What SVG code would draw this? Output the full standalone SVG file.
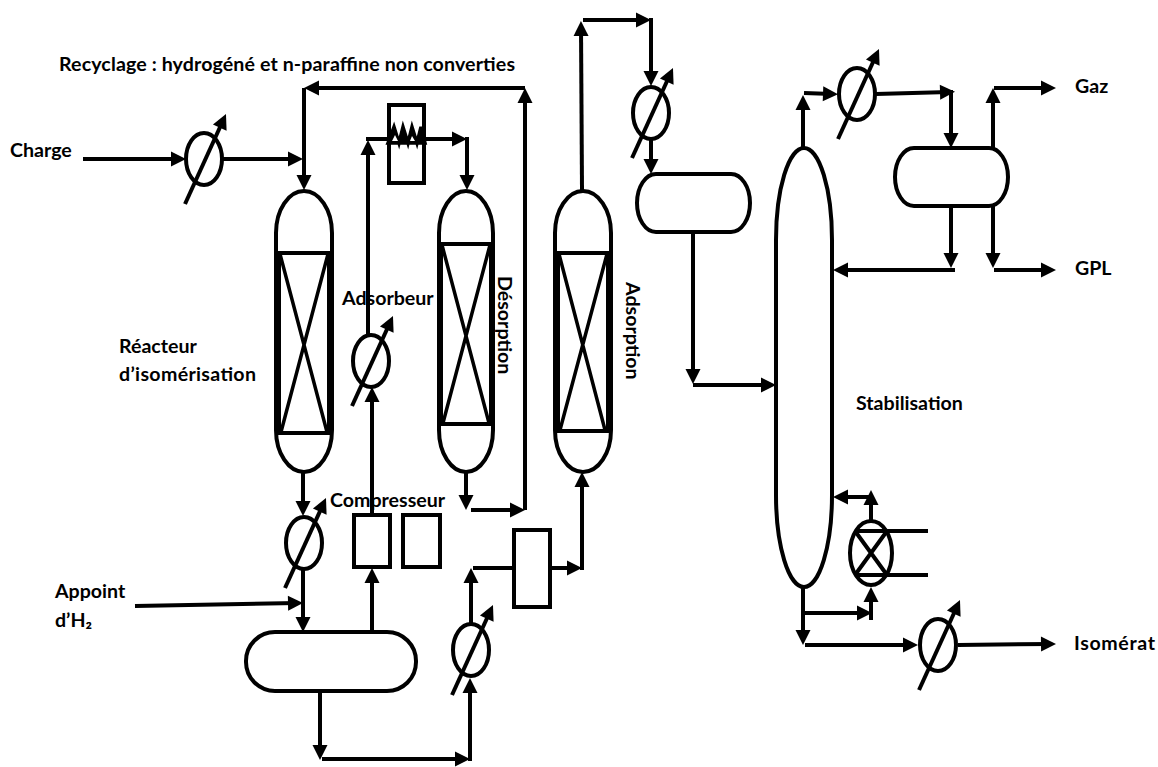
<svg xmlns="http://www.w3.org/2000/svg" width="1158" height="767" viewBox="0 0 1158 767">
<style>
.s{fill:none;stroke:#000;stroke-width:4}
.c path{fill:none;stroke:#000;stroke-width:4;marker-end:url(#a)}
.c path.p{marker-end:none}
.x{fill:none;stroke:#000;stroke-width:3.5}
text{font-family:"Lato","Liberation Sans",sans-serif;font-weight:700;font-size:19.6px;fill:#000}
</style>
<defs>
<marker id="a" markerUnits="userSpaceOnUse" markerWidth="16" markerHeight="16" refX="9" refY="7.5" orient="auto" overflow="visible"><path d="M0,0L15,7.5L0,15Z" fill="#000"/></marker>
<g id="hx"><ellipse cx="0" cy="0" rx="18" ry="26" class="s"/><path d="M-19,45L19.5,-39.5" class="s" style="marker-end:url(#a)"/></g>
</defs>
<g id="connectors" class="c">
<path d="M83,159H180"/>
<path d="M222,159H297"/>
<path d="M304,88V184"/>
<path d="M525,88H310"/>
<path d="M525,510V94"/>
<path d="M471,510H519"/>
<path d="M466,472V504"/>
<path d="M368,336V146"/>
<path class="p" d="M366,139H389"/>
<path d="M424,139H461"/>
<path d="M467,137V184"/>
<path d="M372,515V393"/>
<path d="M372,632V574"/>
<path d="M303,472V510"/>
<path d="M303,570V626"/>
<path d="M135,606L297,603"/>
<path d="M320,690V754"/>
<path d="M322,759H464"/>
<path d="M470,761V684"/>
<path d="M471,624V574"/>
<path class="p" d="M473,568H514"/>
<path d="M550,568H576"/>
<path d="M582,570V478"/>
<path d="M582,190L581,27"/>
<path d="M583,20H645"/>
<path d="M651,18V80"/>
<path d="M651,139V168"/>
<path d="M693,232V378"/>
<path d="M693,385H770"/>
<path d="M803,148V101"/>
<path d="M804,93L832,94"/>
<path d="M876,94L949,92"/>
<path d="M951,90V142"/>
<path d="M993,148V94"/>
<path d="M994,88H1050"/>
<path d="M951,205V262"/>
<path d="M993,205V262"/>
<path d="M994,270H1050"/>
<path d="M955,270H839"/>
<path d="M871,521V496"/>
<path d="M871,497H839"/>
<path d="M871,620V593"/>
<path d="M803,587V639"/>
<path d="M805,613H866"/>
<path d="M805,645H912"/>
<path d="M958,645L1050,644"/>
<path class="p" d="M855,531H928"/>
<path class="p" d="M855,575H928"/>
</g>
<g id="reacteur"><path class="s" d="M276,233A28,42 0 0 1 332,233V430A28,42 0 0 1 276,430Z"/><path class="s" d="M277,253H331M278,433H330M279,253V433M329,253V433"/><path class="x" d="M280,254L327,432M328,254L281,432"/></g>
<g id="desorption"><path class="s" d="M439,233A27,42 0 0 1 493,233V430A27,42 0 0 1 439,430Z"/><path class="s" d="M440,244H492M440,424H492M441,244V424M491,244V424"/><path class="x" d="M442,245L489,423M490,245L443,423"/></g>
<g id="adsorption"><path class="s" d="M555,233A28,42 0 0 1 611,233V430A28,42 0 0 1 555,430Z"/><path class="s" d="M556,253H610M556,431H610M558,253V431M608,253V431"/><path class="x" d="M559,254L605,430M607,254L560,430"/></g>
<g id="four"><rect x="389" y="105" width="35" height="78" class="s"/><path d="M388,143L394,127L399,143L403,127L408,143L412,127L417,143L421,127L425,143Z" class="x" style="fill:#000"/><path d="M392,141L395,135L398,141ZM410,141L412,136L415,141Z" fill="#fff"/></g>
<g id="hx-charge"><use href="#hx" x="204" y="159"/></g>
<g id="hx-adsorbeur"><use href="#hx" x="371" y="361"/></g>
<g id="hx-reacteur"><use href="#hx" x="304" y="543"/></g>
<g id="hx-bas"><use href="#hx" x="471" y="650"/></g>
<g id="hx-haut"><use href="#hx" x="651" y="113"/></g>
<g id="hx-stab"><use href="#hx" x="857" y="94"/></g>
<g id="hx-isomerat"><use href="#hx" x="938" y="645"/></g>
<g id="compresseur"><rect x="354" y="515" width="36" height="52" class="s"/><rect x="403" y="515" width="37" height="52" class="s"/></g>
<g id="ballon-bas"><rect x="246" y="632" width="170" height="59" rx="29" class="s"/></g>
<g id="melangeur"><rect x="514" y="530" width="36" height="77" class="s"/></g>
<g id="ballon-haut"><rect x="637" y="174" width="113" height="58" rx="19" ry="29" class="s"/></g>
<g id="ballon-stab"><rect x="895" y="148" width="113" height="58" rx="19" ry="29" class="s"/></g>
<g id="colonne"><path class="s" d="M776,240A28,92 0 0 1 832,240V495A28,92 0 0 1 776,495Z"/></g>
<g id="rebouilleur"><ellipse cx="871" cy="553" rx="21" ry="32" class="s"/><path class="s" d="M855,531L887,575M887,531L855,575"/></g>
<g id="labels">
<text x="59" y="71" textLength="456">Recyclage : hydrogéné et n-paraffine non converties</text>
<text x="10" y="157">Charge</text>
<text x="119" y="353">Réacteur</text>
<text x="119" y="381" textLength="137">d’isomérisation</text>
<text x="342" y="305">Adsorbeur</text>
<text transform="translate(498,276) rotate(90)">Désorption</text>
<text transform="translate(626,282) rotate(90)">Adsorption</text>
<text x="330" y="507">Compresseur</text>
<text x="55" y="598">Appoint</text>
<text x="55" y="627">d’H₂</text>
<text x="1075" y="93">Gaz</text>
<text x="1075" y="275">GPL</text>
<text x="856" y="410">Stabilisation</text>
<text x="1074" y="650" textLength="81">Isomérat</text>
</g>
</svg>
